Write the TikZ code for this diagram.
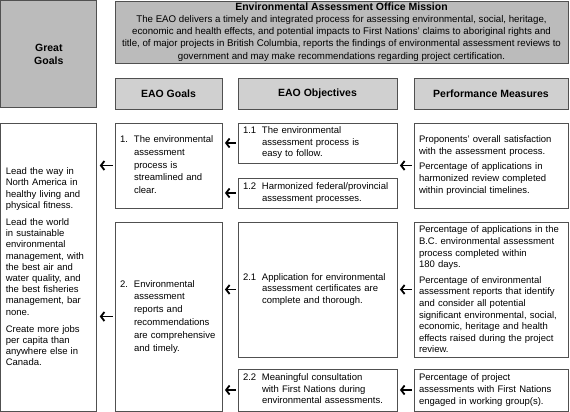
\documentclass[tikz,border=0pt]{standalone}
\usepackage{fontspec}
\setmainfont{Liberation Sans}
\usetikzlibrary{arrows.meta}
\definecolor{darkfill}{RGB}{187,187,187}
\definecolor{lightfill}{RGB}{208,208,208}
\definecolor{edgecol}{RGB}{80,80,80}
\newcommand{\bodyfont}{\fontsize{9.5}{11.6}\selectfont}
\newcommand{\leadfont}{\fontsize{9.5}{11.2}\selectfont}
\newcommand{\goalfont}{\fontsize{9.5}{12.8}\selectfont}
\newcommand{\headfont}{\fontsize{10.5}{12.8}\selectfont\bfseries}
\begin{document}
\begin{tikzpicture}[x=1pt,y=-1pt,
  box/.style={draw=edgecol, line width=0.9pt, fill=white, inner xsep=5pt, inner ysep=0pt, align=left, font=\bodyfont},
  darkbox/.style={box, fill=darkfill, align=center},
  headbox/.style={box, fill=lightfill, align=center, font=\headfont},
  arr/.style={-{Straight Barb[length=3.5pt,width=9pt]}, line width=1.8pt, shorten <=2pt, shorten >=2.5pt, draw=black}]
\useasboundingbox (0,0) rectangle (570,412);

% top row
\node[darkbox, minimum width=96pt, minimum height=107pt, font=\headfont] (great) at (48.8,54) {Great\\Goals};
\node[darkbox, minimum width=453pt, minimum height=62pt, font=\fontsize{9.7}{12.2}\selectfont] (mission) at (341.5,32)
  {{\fontsize{10.5}{12}\selectfont\bfseries Environmental Assessment Office Mission}\\
   The EAO delivers a timely and integrated process for assessing environmental, social, heritage,\\
   economic and health effects, and potential impacts to First Nations' claims to aboriginal rights and\\
   title, of major projects in British Columbia, reports the findings of environmental assessment reviews to\\
   government and may make recommendations regarding project certification.};

% headers
\node[headbox, minimum width=107pt, minimum height=31pt] (h1) at (168.5,93.5) {EAO Goals};
\node[headbox, minimum width=159pt, minimum height=31pt] (h2) at (317.5,93.5) {EAO Objectives};
\node[headbox, minimum width=154pt, minimum height=31pt] (h3) at (491,93.5) {Performance Measures};

% great goals column
\node[box, minimum width=96pt, minimum height=288pt, text width=86pt, font=\leadfont] (lead) at (48.8,267)
  {Lead the way in\\North America in\\healthy living and\\physical fitness.\\[6pt]
   Lead the world\\in sustainable\\environmental\\management, with\\the best air and\\water quality, and\\the best fisheries\\management, bar\\none.\\[6pt]
   Create more jobs\\per capita than\\anywhere else in\\Canada.};

% EAO goals
\node[box, minimum width=107pt, minimum height=85pt, text width=97pt, font=\goalfont] (g1) at (168.5,165.5)
  {\begin{tabular}{@{}p{14pt}@{}l@{}}1.&The environmental\\&assessment\\&process is\\&streamlined and\\&clear.\end{tabular}};
\node[box, minimum width=107pt, minimum height=189pt, text width=97pt, font=\goalfont] (g2) at (168.5,316.5)
  {\begin{tabular}{@{}p{14pt}@{}l@{}}2.&Environmental\\&assessment\\&reports and\\&recommendations\\&are comprehensive\\&and timely.\end{tabular}};

% objectives
\node[box, minimum width=159pt, minimum height=40pt, text width=149pt] (o11) at (317.5,143)
  {\begin{tabular}{@{}p{19pt}@{}l@{}}1.1&The environmental\\&assessment process is\\&easy to follow.\end{tabular}};
\node[box, minimum width=159pt, minimum height=30pt, text width=149pt] (o12) at (317.5,193)
  {\begin{tabular}{@{}p{19pt}@{}l@{}}1.2&Harmonized federal/provincial\\&assessment processes.\end{tabular}};
\node[box, minimum width=159pt, minimum height=135pt, text width=149pt] (o21) at (317.5,289.5)
  {\begin{tabular}{@{}p{19pt}@{}l@{}}2.1&Application for environmental\\&assessment certificates are\\&complete and thorough.\end{tabular}};
\node[box, minimum width=159pt, minimum height=42pt, text width=149pt] (o22) at (317.5,390)
  {\begin{tabular}{@{}p{19pt}@{}l@{}}2.2&Meaningful consultation\\&with First Nations during\\&environmental assessments.\end{tabular}};

% performance measures
\node[box, minimum width=154pt, minimum height=85pt, text width=144pt] (p1) at (491,165.5)
  {Proponents' overall satisfaction\\with the assessment process.\\[4pt]
   Percentage of applications in\\harmonized review completed\\within provincial timelines.};
\node[box, minimum width=154pt, minimum height=135pt, text width=144pt] (p2) at (491,289.5)
  {Percentage of applications in the\\B.C. environmental assessment\\process completed within\\180 days.\\[4pt]
   Percentage of environmental\\assessment reports that identify\\and consider all potential\\significant environmental, social,\\economic, heritage and health\\effects raised during the project\\review.};
\node[box, minimum width=154pt, minimum height=42pt, text width=144pt] (p3) at (491,390)
  {Percentage of project\\assessments with First Nations\\engaged in working group(s).};

% arrows
\draw[arr] (g1.west) -- (g1.west -| lead.east);
\draw[arr] (g2.west) -- (g2.west -| lead.east);
\draw[arr] (o11.west) -- (o11.west -| g1.east);
\draw[arr] (o12.west) -- (o12.west -| g1.east);
\draw[arr] (o21.west) -- (o21.west -| g2.east);
\draw[arr] (o22.west) -- (o22.west -| g2.east);
\draw[arr] (p1.west) -- (p1.west -| o11.east);
\draw[arr] (p2.west) -- (p2.west -| o21.east);
\draw[arr] (p3.west) -- (p3.west -| o22.east);
\end{tikzpicture}
\end{document}
